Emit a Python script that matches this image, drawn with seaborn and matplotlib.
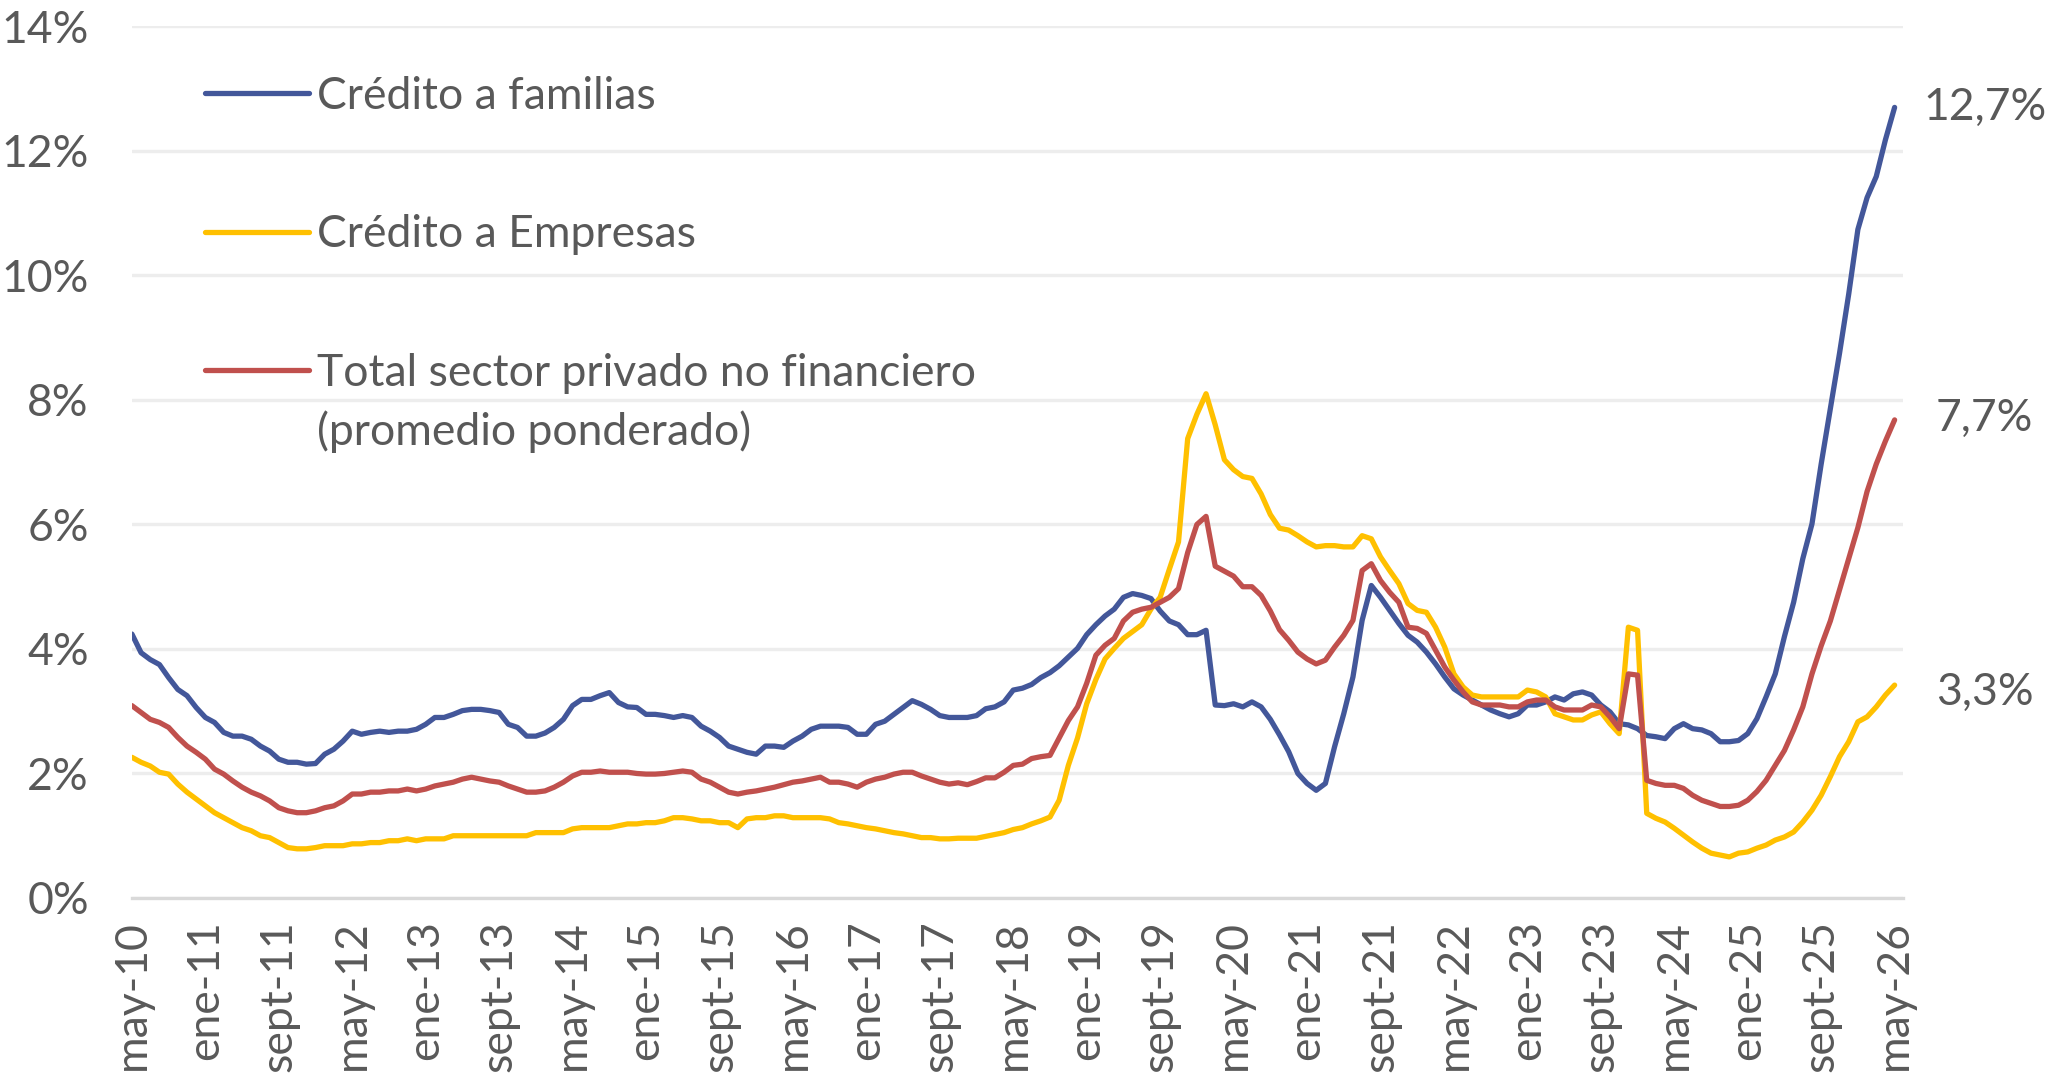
import pandas as pd
import matplotlib
matplotlib.use("Agg")
import matplotlib.pyplot as plt
import seaborn as sns

# tasas mensuales (%), may-10 .. may-26
familias = [
    4.24, 3.94, 3.83, 3.75, 3.54, 3.35, 3.25, 3.06, 2.90, 2.82,
    2.66, 2.60, 2.60, 2.55, 2.44, 2.36, 2.23, 2.18, 2.18, 2.15,
    2.16, 2.31, 2.39, 2.52, 2.68, 2.63, 2.66, 2.68, 2.66, 2.68,
    2.68, 2.71, 2.79, 2.90, 2.90, 2.95, 3.01, 3.03, 3.03, 3.01,
    2.98, 2.79, 2.74, 2.60, 2.60, 2.65, 2.74, 2.87, 3.09, 3.19,
    3.19, 3.25, 3.30, 3.14, 3.07, 3.06, 2.95, 2.95, 2.93, 2.90,
    2.93, 2.90, 2.76, 2.68, 2.58, 2.44, 2.39, 2.34, 2.31, 2.44,
    2.44, 2.42, 2.52, 2.60, 2.71, 2.76, 2.76, 2.76, 2.74, 2.63,
    2.63, 2.79, 2.84, 2.95, 3.06, 3.17, 3.11, 3.03, 2.93, 2.90,
    2.90, 2.90, 2.93, 3.04, 3.07, 3.15, 3.34, 3.37, 3.43, 3.54,
    3.62, 3.73, 3.87, 4.01, 4.23, 4.39, 4.53, 4.64, 4.83, 4.89,
    4.86, 4.81, 4.61, 4.45, 4.39, 4.23, 4.23, 4.30, 3.10, 3.09,
    3.12, 3.07, 3.15, 3.07, 2.87, 2.62, 2.35, 2.00, 1.84, 1.73,
    1.84, 2.43, 2.96, 3.55, 4.46, 5.02, 4.83, 4.62, 4.41, 4.22,
    4.11, 3.95, 3.76, 3.55, 3.36, 3.26, 3.18, 3.10, 3.02, 2.96,
    2.91, 2.96, 3.10, 3.10, 3.15, 3.23, 3.18, 3.28, 3.31, 3.26,
    3.10, 2.99, 2.80, 2.78, 2.72, 2.61, 2.59, 2.56, 2.72, 2.80,
    2.72, 2.70, 2.64, 2.51, 2.51, 2.53, 2.64, 2.88, 3.23, 3.60,
    4.20, 4.75, 5.45, 6.01, 6.97, 7.86, 8.75, 9.70, 10.74, 11.25,
    11.59, 12.18, 12.70]

empresas = [
    2.26, 2.18, 2.12, 2.02, 1.99, 1.83, 1.70, 1.59, 1.48, 1.37,
    1.29, 1.21, 1.13, 1.08, 1.00, 0.97, 0.89, 0.81, 0.79, 0.79,
    0.81, 0.84, 0.84, 0.84, 0.87, 0.87, 0.89, 0.89, 0.92, 0.92,
    0.95, 0.92, 0.95, 0.95, 0.95, 1.00, 1.00, 1.00, 1.00, 1.00,
    1.00, 1.00, 1.00, 1.00, 1.05, 1.05, 1.05, 1.05, 1.11, 1.13,
    1.13, 1.13, 1.13, 1.16, 1.19, 1.19, 1.21, 1.21, 1.24, 1.29,
    1.29, 1.27, 1.24, 1.24, 1.21, 1.21, 1.13, 1.27, 1.29, 1.29,
    1.32, 1.32, 1.29, 1.29, 1.29, 1.29, 1.27, 1.21, 1.19, 1.16,
    1.13, 1.11, 1.08, 1.05, 1.03, 1.00, 0.97, 0.97, 0.95, 0.95,
    0.96, 0.96, 0.96, 0.99, 1.02, 1.05, 1.10, 1.13, 1.19, 1.24,
    1.30, 1.57, 2.13, 2.57, 3.12, 3.51, 3.84, 4.01, 4.17, 4.28,
    4.39, 4.64, 4.83, 5.28, 5.72, 7.38, 7.77, 8.10, 7.60, 7.04,
    6.88, 6.77, 6.74, 6.49, 6.16, 5.94, 5.91, 5.82, 5.72, 5.64,
    5.66, 5.66, 5.64, 5.64, 5.82, 5.77, 5.48, 5.26, 5.05, 4.73,
    4.62, 4.59, 4.35, 4.03, 3.60, 3.39, 3.26, 3.23, 3.23, 3.23,
    3.23, 3.23, 3.34, 3.31, 3.23, 2.96, 2.91, 2.86, 2.86, 2.94,
    2.99, 2.80, 2.64, 4.35, 4.30, 1.36, 1.28, 1.22, 1.12, 1.01,
    0.90, 0.80, 0.72, 0.69, 0.66, 0.72, 0.74, 0.80, 0.85, 0.93,
    0.98, 1.06, 1.22, 1.41, 1.65, 1.95, 2.27, 2.51, 2.83, 2.91,
    3.07, 3.26, 3.42]

total = [
    3.09, 2.98, 2.87, 2.82, 2.74, 2.58, 2.44, 2.34, 2.23, 2.07,
    1.99, 1.88, 1.78, 1.70, 1.64, 1.56, 1.45, 1.40, 1.37, 1.37,
    1.40, 1.45, 1.48, 1.56, 1.67, 1.67, 1.70, 1.70, 1.72, 1.72,
    1.75, 1.72, 1.75, 1.80, 1.83, 1.86, 1.91, 1.94, 1.91, 1.88,
    1.86, 1.80, 1.75, 1.70, 1.70, 1.72, 1.78, 1.86, 1.96, 2.02,
    2.02, 2.04, 2.02, 2.02, 2.02, 2.00, 1.99, 1.99, 2.00, 2.02,
    2.04, 2.02, 1.91, 1.86, 1.78, 1.70, 1.67, 1.70, 1.72, 1.75,
    1.78, 1.82, 1.86, 1.88, 1.91, 1.94, 1.86, 1.86, 1.83, 1.78,
    1.86, 1.91, 1.94, 1.99, 2.02, 2.02, 1.96, 1.91, 1.86, 1.83,
    1.85, 1.82, 1.87, 1.93, 1.93, 2.02, 2.13, 2.15, 2.24, 2.27,
    2.29, 2.57, 2.85, 3.07, 3.45, 3.90, 4.06, 4.17, 4.45, 4.59,
    4.64, 4.67, 4.75, 4.83, 4.97, 5.55, 6.00, 6.13, 5.33, 5.25,
    5.17, 5.00, 5.00, 4.86, 4.61, 4.31, 4.14, 3.95, 3.84, 3.76,
    3.82, 4.03, 4.22, 4.46, 5.26, 5.37, 5.10, 4.91, 4.75, 4.35,
    4.33, 4.25, 3.98, 3.71, 3.50, 3.31, 3.15, 3.10, 3.10, 3.10,
    3.07, 3.07, 3.15, 3.18, 3.18, 3.07, 3.02, 3.02, 3.02, 3.10,
    3.07, 2.91, 2.72, 3.60, 3.58, 1.89, 1.84, 1.81, 1.81, 1.76,
    1.65, 1.57, 1.52, 1.47, 1.47, 1.49, 1.57, 1.71, 1.89, 2.13,
    2.37, 2.70, 3.07, 3.60, 4.05, 4.45, 4.95, 5.45, 5.95, 6.53,
    6.97, 7.34, 7.68]

series = ["Crédito a familias", "Crédito a Empresas", "Total sector privado no financiero"]
nota_total = "(promedio ponderado)"
colores = ["#43579a", "#ffc000", "#c0504d"]
etiquetas_x = ["may-10", "ene-11", "sept-11", "may-12", "ene-13", "sept-13", "may-14",
               "ene-15", "sept-15", "may-16", "ene-17", "sept-17", "may-18", "ene-19",
               "sept-19", "may-20", "ene-21", "sept-21", "may-22", "ene-23", "sept-23",
               "may-24", "ene-25", "sept-25", "may-26"]
ticks_y = [0, 2, 4, 6, 8, 10, 12, 14]
valores_finales = [12.7, 7.7, 3.3]

assert len(familias) == len(empresas) == len(total) == 193

df = pd.DataFrame({"mes": range(len(familias)),
                   series[0]: familias, series[1]: empresas, series[2]: total})
largo = df.melt(id_vars="mes", var_name="serie", value_name="tasa")

sns.set_style("white")
plt.rcParams["font.family"] = ["Lato", "DejaVu Sans"]
gris = "#595959"
fs = 32

W, H = 2045, 1081
fig = plt.figure(figsize=(W / 100, H / 100), dpi=100)
ax = fig.add_axes([0.0645, 0.1693, 0.866, 0.8062])

sns.lineplot(data=largo, x="mes", y="tasa", hue="serie", hue_order=series,
             palette=colores, linewidth=3.8, ax=ax)

ax.set_xlim(0, 192.9)
ax.set_ylim(0, 14)
ax.set_yticks(ticks_y)
ax.set_yticklabels([f"{t}%" for t in ticks_y])
ax.set_xticks(range(0, len(familias), 8))
ax.set_xticklabels(etiquetas_x, rotation=90)
ax.set_xlabel("")
ax.set_ylabel("")

ax.yaxis.grid(True, color="#ededed", linewidth=2.4)
ax.set_axisbelow(True)
for lado in ["top", "right", "left"]:
    ax.spines[lado].set_visible(False)
ax.spines["bottom"].set_color("#d9d9d9")
ax.spines["bottom"].set_linewidth(2.4)
ax.tick_params(axis="y", length=0, pad=31, labelsize=fs, labelcolor=gris)
ax.tick_params(axis="x", length=9, width=1.8, color="#d9d9d9", pad=7,
               labelsize=fs, labelcolor=gris)

handles, labels = ax.get_legend_handles_labels()
leg = ax.legend(handles, labels, loc="upper left", bbox_to_anchor=(205 / W, 1 - 76 / H),
                bbox_transform=fig.transFigure, frameon=False, borderpad=0, borderaxespad=0,
                handlelength=2.35, handletextpad=0.18, labelspacing=2.19,
                prop={"size": fs})
for t in leg.get_texts():
    t.set_color(gris)
for h in leg.get_lines():
    h.set_linewidth(3.8)

# second line of the third legend entry, placed under its text
fig.canvas.draw()
caja = leg.get_texts()[2].get_window_extent()
fig.text(caja.x0 / W, ((caja.y0 + caja.y1) / 2 - 59) / H, nota_total,
         ha="left", va="center", fontsize=fs, color=gris)

for v in valores_finales:
    ax.annotate(f"{v:.1f}%".replace(".", ","), xy=(len(familias) - 1, v),
                xytext=(90, 0), textcoords="offset pixels", ha="center", va="center",
                fontsize=fs, color=gris, annotation_clip=False)

fig.savefig("out.png", dpi=100)
